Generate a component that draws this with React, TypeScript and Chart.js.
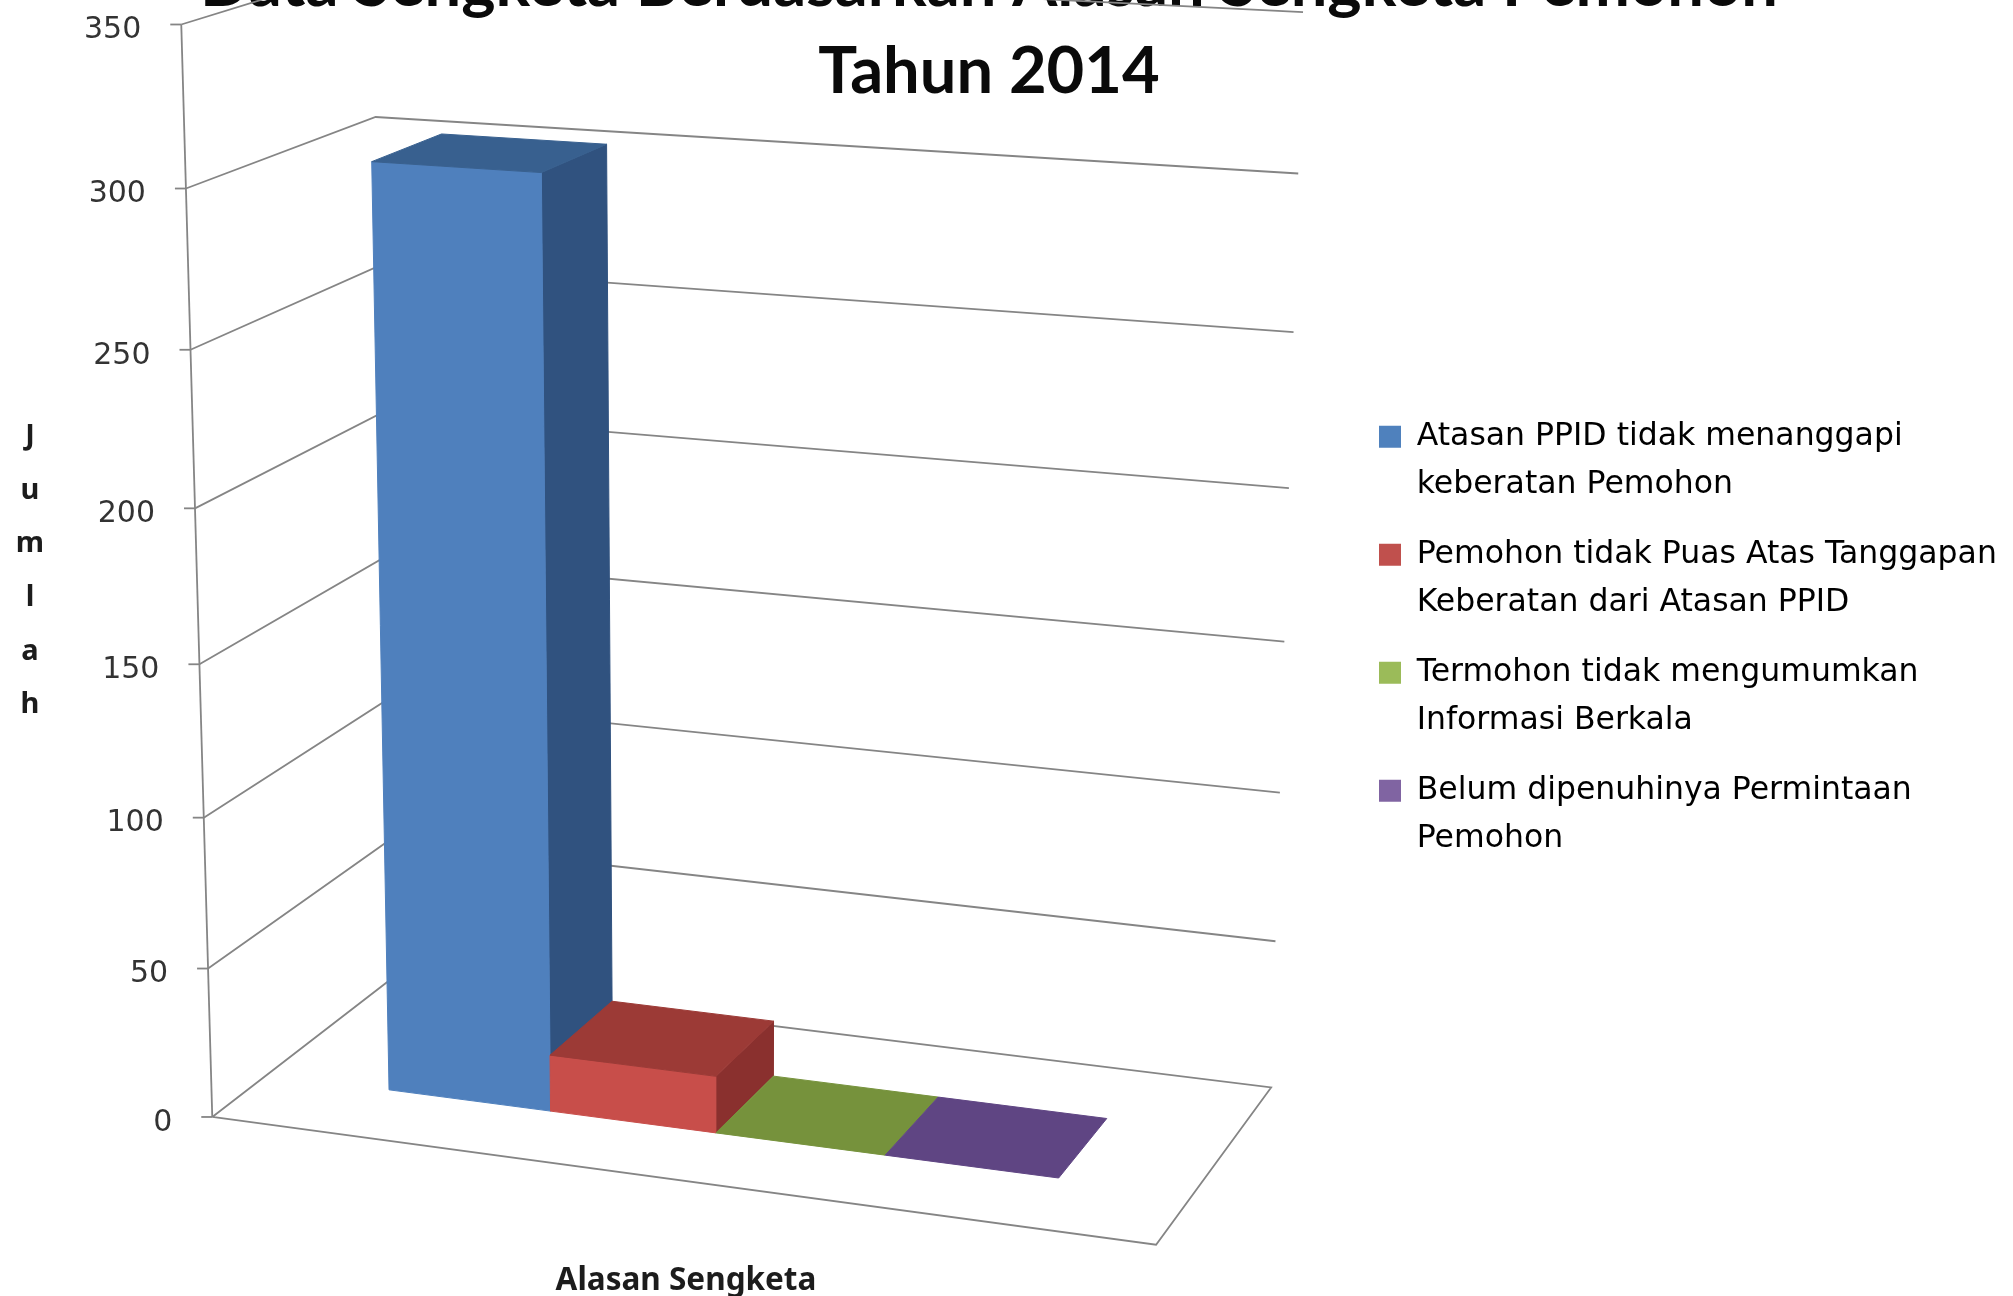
import { useEffect, useRef } from 'react';
import Chart from 'chart.js/auto';

const categories = ['Alasan Sengketa'];
const titleLines = ['Data Sengketa Berdasarkan Alasan Sengketa Pemohon', 'Tahun 2014'];
const yTitleLetters = ['J', 'u', 'm', 'l', 'a', 'h'];
const xTitle = 'Alasan Sengketa';
const legendLines = [
  ['Atasan PPID tidak menanggapi', 'keberatan Pemohon'],
  ['Pemohon tidak Puas Atas Tanggapan', 'Keberatan dari Atasan PPID'],
  ['Termohon tidak mengumumkan', 'Informasi Berkala'],
  ['Belum dipenuhinya Permintaan', 'Pemohon'],
];
const atasanValues = [304];
const pemohonValues = [19];
const termohonValues = [0];
const belumValues = [0];
const seriesValues = [atasanValues, pemohonValues, termohonValues, belumValues];
const legendColors = ['#4F81BD', '#C0504D', '#9BBB59', '#8064A2'];
const frontColors = ['#4F80BD', '#C84E4A', '#76923C', '#5F497A'];
const topColors = ['#38608F', '#9C3A36', '#76923C', '#5F4583'];
const sideColors = ['#30527F', '#8A302E', '#5E7530', '#4C3A62'];
const Y_MAX = 350;
const Y_STEP = 50;

// Camera calibration of the reference's 3D box: [u, v, value, pixelX, pixelY]
const boxCorners = [
  [0, 0, 0, 212, 1117], [1, 0, 0, 1156, 1245], [1, 1, 0, 1271, 1087], [0, 1, 0, 392, 979],
  [0, 0, 150, 199, 664], [0, 0, 300, 187, 188], [0, 0, 350, 181, 25],
  [0, 1, 300, 375, 117], [1, 1, 250, 1294, 333], [1, 1, 300, 1298, 173], [1, 1, 350, 1303, 12],
];
const BAR_FRONT = 0.295;
const BAR_BACK = 0.68;
const BAR_SHIFT = 0.001;

function fitCamera(points: number[][]) {
  const n = 11;
  const M = Array.from({ length: n }, () => new Array(n + 1).fill(0));
  const add = (row: number[], rhs: number) => {
    for (let i = 0; i < n; i++) {
      for (let j = 0; j < n; j++) M[i][j] += row[i] * row[j];
      M[i][n] += row[i] * rhs;
    }
  };
  for (const [u, v, w, px, py] of points) {
    const t = w / Y_MAX, x = px / 1000, y = py / 1000;
    add([u, v, t, 1, 0, 0, 0, 0, -x * u, -x * v, -x * t], x);
    add([0, 0, 0, 0, u, v, t, 1, -y * u, -y * v, -y * t], y);
  }
  for (let i = 0; i < n; i++) {
    let p = i;
    for (let r = i + 1; r < n; r++) if (Math.abs(M[r][i]) > Math.abs(M[p][i])) p = r;
    [M[i], M[p]] = [M[p], M[i]];
    for (let r = 0; r < n; r++) {
      if (r === i) continue;
      const f = M[r][i] / M[i][i];
      for (let c = i; c <= n; c++) M[r][c] -= f * M[i][c];
    }
  }
  return M.map((row, i) => row[n] / row[i]);
}

const cam = fitCamera(boxCorners);
function project(u: number, v: number, w: number): [number, number] {
  const t = w / Y_MAX;
  const d = cam[8] * u + cam[9] * v + cam[10] * t + 1;
  return [
    (1000 * (cam[0] * u + cam[1] * v + cam[2] * t + cam[3])) / d,
    (1000 * (cam[4] * u + cam[5] * v + cam[6] * t + cam[7])) / d,
  ];
}

function poly(ctx: CanvasRenderingContext2D, pts: [number, number][], fill: string) {
  ctx.beginPath();
  pts.forEach((p, i) => (i ? ctx.lineTo(p[0], p[1]) : ctx.moveTo(p[0], p[1])));
  ctx.closePath();
  ctx.fillStyle = fill;
  ctx.fill();
  ctx.strokeStyle = fill;
  ctx.lineWidth = 1;
  ctx.stroke();
}

const box3d = {
  id: 'box3d',
  afterLayout(chart: any) {
    const legend = chart.legend;
    legend.left = 1357;
    legend.right = 2013;
    legend.top = 399;
    legend.bottom = 1290;
    const tb = chart.titleBlock;
    tb.left = 0;
    tb.right = 1978;
    tb.top = -58;
    tb.bottom = 116;
  },
  beforeDatasetsDraw(chart: any) {
    const { ctx, scales } = chart;
    ctx.save();
    ctx.strokeStyle = '#858585';
    ctx.lineWidth = 1.8;
    const line = (pts: [number, number][]) => {
      ctx.beginPath();
      pts.forEach((p, i) => (i ? ctx.lineTo(p[0], p[1]) : ctx.moveTo(p[0], p[1])));
      ctx.stroke();
    };
    const ticks = scales.y.ticks.map((t: any) => t.value);
    line([project(0, 0, 0), project(0, 0, Y_MAX)]);
    line([project(0, 0, 0), project(1, 0, 0), project(1, 1, 0), project(0, 1, 0), project(0, 0, 0)]);
    ctx.fillStyle = '#333';
    ctx.font = '30px "DejaVu Sans"';
    ctx.textAlign = 'right';
    ctx.textBaseline = 'middle';
    for (const value of ticks) {
      const a = project(0, 0, value);
      if (value > 0) line([a, project(0, 1, value), project(1, 1, value)]);
      line([[a[0] - 11, a[1]], a]);
      ctx.fillText(String(value), a[0] - 40, a[1] + 6);
    }
    ctx.fillStyle = '#1c1c1c';
    ctx.font = 'bold 29px "Noto Sans"';
    ctx.textAlign = 'center';
    yTitleLetters.forEach((ch, i) => ctx.fillText(ch, 30, 437 + i * 53.6));
    ctx.font = 'bold 31.5px "Noto Sans"';
    ctx.fillText(xTitle, 686, 1281);
    ctx.restore();
  },
  beforeDatasetDraw() {
    return false;
  },
  afterDatasetsDraw(chart: any) {
    const { ctx, chartArea, scales } = chart;
    chart.data.datasets.forEach((_: any, i: number) => {
      const el = chart.getDatasetMeta(i).data[0];
      const u0 = (el.x - el.width / 2 - chartArea.left) / chartArea.width + BAR_SHIFT;
      const u1 = (el.x + el.width / 2 - chartArea.left) / chartArea.width + BAR_SHIFT;
      const w = scales.y.getValueForPixel(el.y);
      const w0 = scales.y.getValueForPixel(el.base);
      if (w > w0 + 0.01) {
        poly(ctx, [project(u1, BAR_FRONT, w0), project(u1, BAR_BACK, w0), project(u1, BAR_BACK, w), project(u1, BAR_FRONT, w)], sideColors[i]);
        poly(ctx, [project(u0, BAR_FRONT, w0), project(u1, BAR_FRONT, w0), project(u1, BAR_FRONT, w), project(u0, BAR_FRONT, w)], frontColors[i]);
      }
      poly(ctx, [project(u0, BAR_FRONT, w), project(u1, BAR_FRONT, w), project(u1, BAR_BACK, w), project(u0, BAR_BACK, w)], topColors[i]);
    });
  },
};

export default function App() {
  const ref = useRef<HTMLCanvasElement>(null);
  useEffect(() => {
    document.body.style.margin = '0';
    const chart = new Chart(ref.current!, {
      type: 'bar',
      data: {
        labels: categories,
        datasets: seriesValues.map((data, i) => ({
          label: legendLines[i].join(' '),
          data,
          backgroundColor: legendColors[i],
          categoryPercentage: 0.725,
          barPercentage: 1,
        })),
      },
      options: {
        responsive: false,
        animation: false,
        plugins: {
          title: {
            display: true,
            text: titleLines,
            color: '#0a0a0a',
            padding: 0,
            font: { family: 'Lato', weight: 'bold', size: 65, lineHeight: '87px' },
          },
          legend: {
            display: true,
            position: 'right',
            align: 'start',
            labels: {
              boxWidth: 22,
              boxHeight: 22,
              padding: 22,
              color: '#2a2a2a',
              font: { family: '"DejaVu Sans"', size: 31.5, lineHeight: '48px' },
              generateLabels: () =>
                legendLines.map((text, i) => ({
                  text,
                  fillStyle: legendColors[i],
                  strokeStyle: legendColors[i],
                  lineWidth: 0,
                  datasetIndex: i,
                })),
            },
          },
          tooltip: { enabled: false },
        },
        scales: {
          x: { display: false },
          y: { display: false, min: 0, max: Y_MAX, ticks: { stepSize: Y_STEP } },
        },
      } as any,
      plugins: [box3d],
    });
    return () => chart.destroy();
  }, []);
  return (
    <div style={{ width: 2013, height: 1296, background: '#fff', overflow: 'hidden' }}>
      <canvas ref={ref} width={2013} height={1296} style={{ display: 'block' }} />
    </div>
  );
}
